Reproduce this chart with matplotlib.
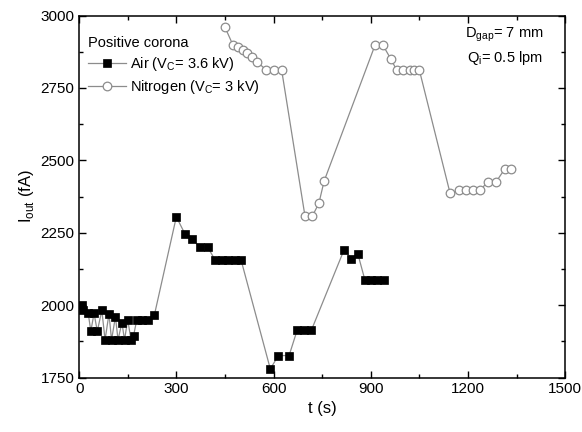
import matplotlib
matplotlib.use("Agg")
import matplotlib.pyplot as plt
from matplotlib.ticker import MultipleLocator

# Ion current vs time, positive corona, air and nitrogen
air_t = [8, 12, 28, 36, 46, 56, 70, 80, 92, 100, 112, 120, 132, 140, 150, 160,
         168, 178, 195, 212, 232, 300, 327, 347, 373, 397, 420, 440, 460, 480,
         500, 590, 615, 648, 673, 695, 717, 818, 840, 860, 882, 900, 920, 940]
air_i = [2000, 1985, 1972, 1910, 1972, 1910, 1982, 1880, 1970, 1880, 1960, 1880,
         1940, 1880, 1950, 1880, 1895, 1950, 1950, 1950, 1965, 2305, 2245, 2230,
         2200, 2200, 2155, 2155, 2155, 2155, 2155, 1780, 1826, 1826, 1914, 1914,
         1914, 2192, 2161, 2178, 2087, 2087, 2087, 2087]

n2_t = [450, 474, 490, 505, 519, 533, 550, 577, 600, 625, 697, 720, 740, 756,
        913, 938, 962, 980, 1000, 1020, 1035, 1050, 1145, 1172, 1195, 1216,
        1237, 1262, 1287, 1313, 1334]
n2_i = [2960, 2900, 2890, 2882, 2870, 2857, 2840, 2812, 2812, 2812, 2308, 2308,
        2352, 2428, 2897, 2897, 2850, 2812, 2812, 2812, 2812, 2812, 2386, 2397,
        2397, 2397, 2397, 2426, 2426, 2469, 2469]

plt.rcParams["font.family"] = ["Liberation Sans", "DejaVu Sans"]

fig = plt.figure(figsize=(5.82, 4.32), dpi=100)
ax = fig.add_axes([0.136, 0.126, 0.835, 0.838])

LINE = "#8c8c8c"
ax.plot(air_t, air_i, color=LINE, lw=0.9, marker="s", ms=5.2,
        mfc="black", mec="black", mew=0.5,
        label="Air (V$_\\mathregular{C}$= 3.6 kV)")
ax.plot(n2_t, n2_i, color=LINE, lw=0.9, marker="o", ms=6.2,
        mfc="white", mec="#8c8c8c", mew=0.9,
        label="Nitrogen (V$_\\mathregular{C}$= 3 kV)")

ax.set_xlim(0, 1500)
ax.set_ylim(1750, 3000)
ax.xaxis.set_major_locator(MultipleLocator(300))
ax.xaxis.set_minor_locator(MultipleLocator(150))
ax.yaxis.set_major_locator(MultipleLocator(250))
ax.yaxis.set_minor_locator(MultipleLocator(125))
ax.tick_params(which="both", direction="in", top=True, right=True, labelsize=11)
ax.tick_params(which="major", length=5, width=1.0)
ax.tick_params(which="minor", length=3, width=1.0)
for sp in ax.spines.values():
    sp.set_linewidth(1.1)

ax.set_xlabel("t (s)", fontsize=12, labelpad=3)
ax.set_ylabel("I$_\\mathregular{out}$ (fA)", fontsize=12, labelpad=3)

leg = ax.legend(loc="upper left", bbox_to_anchor=(-0.012, 0.985),
                title="Positive corona", frameon=False,
                fontsize=10.5, title_fontsize=10.5, handlelength=2.6,
                handletextpad=0.3, borderaxespad=0.6, labelspacing=0.35)
leg._legend_box.align = "left"

ax.text(0.955, 0.948, "D$_\\mathregular{gap}$= 7 mm", transform=ax.transAxes,
        ha="right", va="center", fontsize=10.5)
ax.text(0.955, 0.882, "Q$_\\mathregular{i}$= 0.5 lpm", transform=ax.transAxes,
        ha="right", va="center", fontsize=10.5)

fig.savefig("out.png", dpi=100)
